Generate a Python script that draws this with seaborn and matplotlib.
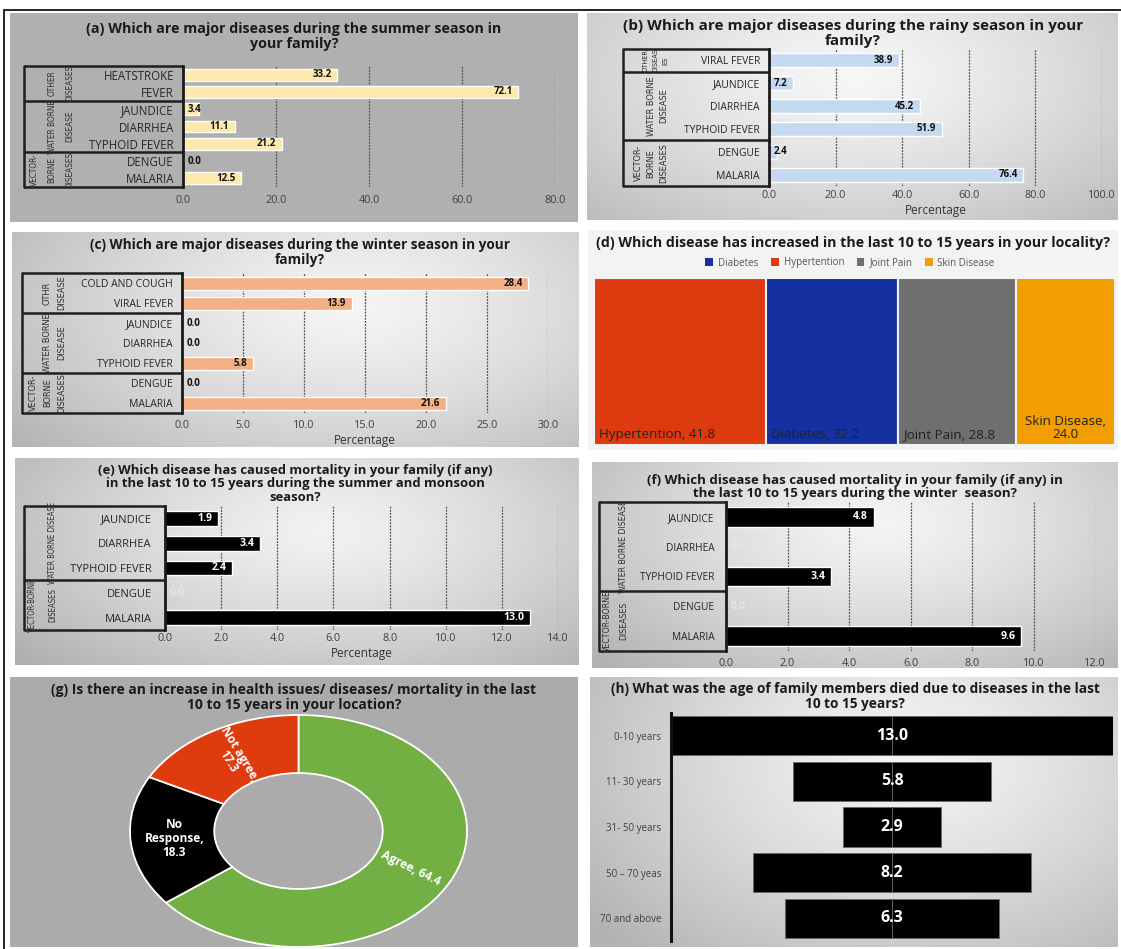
import numpy as np
import pandas as pd
import matplotlib
matplotlib.use("Agg")
import matplotlib.pyplot as plt
import matplotlib.colors as mcolors
import matplotlib.transforms as mtrans
from matplotlib import font_manager as fm
from matplotlib.lines import Line2D
from matplotlib.patches import Rectangle, Patch
import seaborn as sns

sns.set_theme(style="white")
plt.rcParams['font.family'] = ['Open Sans', 'DejaVu Sans']

# look for a condensed face for the rotated group captions
_narrow_path = None
for key in ["LiberationSansNarrow-Regular", "DejaVuSansCondensed.ttf", "OpenSans_Condensed-Regular",
            "OpenSansCondensed-Regular", "RobotoCondensed-Regular"]:
    for f in fm.fontManager.ttflist:
        if key in f.fname:
            _narrow_path = f.fname
            break
    if _narrow_path:
        break
NARROW_SCALE = 1.22 if _narrow_path else 1.0


def narrow_props(size):
    if _narrow_path:
        return fm.FontProperties(fname=_narrow_path, size=size)
    return fm.FontProperties(family=['Liberation Sans', 'DejaVu Sans'], size=size)


# ------------------------------------------------------------------ data
a_cats = ["HEATSTROKE", "FEVER", "JAUNDICE", "DIARRHEA", "TYPHOID FEVER", "DENGUE", "MALARIA"]
a_vals = [33.2, 72.1, 3.4, 11.1, 21.2, 0.0, 12.5]
a_groups = ["OTHER\nDISEASES", "WATER BORNE\nDISEASE", "VECTOR-\nBORNE\nDISEASES"]
a_group_sizes = [2, 3, 2]

b_cats = ["VIRAL FEVER", "JAUNDICE", "DIARRHEA", "TYPHOID FEVER", "DENGUE", "MALARIA"]
b_vals = [38.9, 7.2, 45.2, 51.9, 2.4, 76.4]
b_groups = ["OTHER\nDISEAS\nES", "WATER BORNE\nDISEASE", "VECTOR-\nBORNE\nDISEASES"]
b_group_sizes = [1, 3, 2]

c_cats = ["COLD AND COUGH", "VIRAL FEVER", "JAUNDICE", "DIARRHEA", "TYPHOID FEVER", "DENGUE", "MALARIA"]
c_vals = [28.4, 13.9, 0.0, 0.0, 5.8, 0.0, 21.6]
c_groups = ["OTHR\nDISEASE", "WATER BORNE\nDISEASE", "VECTOR-\nBORNE\nDISEASES"]
c_group_sizes = [2, 3, 2]

d_cats = ["Hypertention", "Diabetes", "Joint Pain", "Skin Disease"]
d_vals = [41.8, 32.2, 28.8, 24.0]
d_legend_order = ["Diabetes", "Hypertention", "Joint Pain", "Skin Disease"]

e_cats = ["JAUNDICE", "DIARRHEA", "TYPHOID FEVER", "DENGUE", "MALARIA"]
e_vals = [1.9, 3.4, 2.4, 0.0, 13.0]
e_groups = ["WATER BORNE DISEASE", "VECTOR-BORNE\nDISEASES"]
e_group_sizes = [3, 2]

f_cats = ["JAUNDICE", "DIARRHEA", "TYPHOID FEVER", "DENGUE", "MALARIA"]
f_vals = [4.8, 0.0, 3.4, 0.0, 9.6]
f_groups = ["WATER BORNE DISEASE", "VECTOR-BORNE\nDISEASES"]
f_group_sizes = [3, 2]

g_labels = ["Agree", "No Response", "Not agree"]
g_vals = [64.4, 18.3, 17.3]

h_cats = ["0-10 years", "11- 30 years", "31- 50 years", "50 \u2013 70 yeas", "70 and above"]
h_vals = [13.0, 5.8, 2.9, 8.2, 6.3]

# ------------------------------------------------------------------ figure
W, H = 1121, 949
fig = plt.figure(figsize=(W / 100, H / 100), dpi=100)
fig.patch.set_facecolor("white")


def R(x0, y0, x1, y1):
    return [x0 / W, 1 - y1 / H, (x1 - x0) / W, (y1 - y0) / H]


def background(x0, y0, x1, y1, flat=None, grad=None):
    ax = fig.add_axes(R(x0, y0, x1, y1), zorder=0)
    ax.set_axis_off()
    if flat is not None:
        ax.add_patch(Rectangle((0, 0), 1, 1, transform=ax.transAxes, color=flat))
    else:
        cin, cout, cx, cy = grad
        X, Y = np.meshgrid(np.linspace(0, 1, 300), np.linspace(0, 1, 150))
        d = np.clip(np.hypot((X - cx) / 0.75, (Y - cy) / 1.0), 0, 1) ** 1.3
        ci = np.array(mcolors.to_rgb(cin))
        co = np.array(mcolors.to_rgb(cout))
        img = ci * (1 - d[..., None]) + co * d[..., None]
        ax.imshow(img, aspect="auto", extent=[0, 1, 0, 1], origin="upper")
        ax.set_xlim(0, 1)
        ax.set_ylim(0, 1)
    return ax


def title(xc, ytop, text, size):
    fig.text(xc / W, 1 - ytop / H, text, ha="center", va="top", fontsize=size,
             fontweight="bold", color="#1a1a1a", linespacing=1.05, zorder=5)


def bar_panel(box, cats, vals, color, xmax, step, glabels, gsizes, box_left, grp_right,
              grp_size, grp_ls, bar_w, val_color, zero_color, xlabel, tick_pad,
              cat_size=7.5, tick_size=7.8, val_size=7, cat_pad=6.5, label_pad=2):
    x0, y0, x1, y1 = box
    ax = fig.add_axes(R(*box), zorder=2)
    ax.patch.set_alpha(0)
    df = pd.DataFrame({"Disease": cats, "Percentage": vals})
    sns.barplot(data=df, x="Percentage", y="Disease", order=cats, color=color,
                saturation=1, width=bar_w, ax=ax, orient="h", errorbar=None)
    n = len(cats)
    ax.set_xlim(0, xmax)
    ax.set_ylim(n - 0.5, -0.5)
    ticks = np.arange(0, xmax + 1e-9, step)
    ax.set_xticks(ticks)
    ax.set_xticklabels([f"{t:.1f}" for t in ticks], fontsize=tick_size, color="#404040")
    ax.tick_params(axis="x", length=0, pad=tick_pad)
    ax.tick_params(axis="y", length=0, pad=cat_pad, labelsize=cat_size, labelcolor="#262626")
    ax.set_ylabel("")
    ax.set_xlabel(xlabel, fontsize=8.5, color="#333333", labelpad=label_pad)
    ax.grid(axis="x", color="#505050", lw=0.9, ls=(0, (1.5, 1)))
    ax.grid(axis="y", visible=False)
    ax.set_axisbelow(True)
    for s in ["top", "right", "bottom"]:
        ax.spines[s].set_visible(False)
    ax.spines["left"].set_color("#1a1a1a")
    ax.spines["left"].set_linewidth(2)

    px_per_unit = (x1 - x0) / xmax
    for i, v in enumerate(vals):
        txt = f"{v:.1f}"
        if v * px_per_unit > 26:
            ax.annotate(txt, (v, i), xytext=(-4, 0), textcoords="offset points", ha="right",
                        va="center", fontsize=val_size, fontweight="bold", color=val_color)
        else:
            ax.annotate(txt, (0, i), xytext=(3.5, 0), textcoords="offset points", ha="left",
                        va="center", fontsize=val_size, fontweight="bold",
                        color=zero_color if v == 0 else val_color)

    blend = mtrans.blended_transform_factory(fig.transFigure, ax.transData)
    xl, xr = box_left / W, x0 / W
    bounds = np.concatenate([[0], np.cumsum(gsizes)]) - 0.5
    for b in bounds:
        ax.add_line(Line2D([xl, xr], [b, b], transform=blend, color="#1f1f1f", lw=1.8,
                           clip_on=False, solid_capstyle="butt"))
    ax.add_line(Line2D([xl, xl], [bounds[0], bounds[-1]], transform=blend, color="#1f1f1f",
                       lw=1.8, clip_on=False))
    for lab, cnt, lo, hi in zip(glabels, gsizes, bounds[:-1], bounds[1:]):
        fs = grp_size * NARROW_SCALE * (0.8 if cnt == 1 else 1.0)
        ls = grp_ls / NARROW_SCALE * (1.15 if cnt == 1 else 1.0)
        ax.text(grp_right / W, (lo + hi) / 2, lab, transform=blend, rotation=90, ha="right",
                va="center", multialignment="center", fontproperties=narrow_props(fs),
                linespacing=ls, color="#2e2e2e")
    return ax


# ------------------------------------------------------------------ frame
fig.add_artist(Line2D([4 / W, 4 / W], [0, 1 - 10 / H], transform=fig.transFigure, color="black", lw=1.2))
fig.add_artist(Line2D([4 / W, 1], [1 - 10 / H, 1 - 10 / H], transform=fig.transFigure, color="black", lw=1.2))

# ------------------------------------------------------------------ (a)
background(10, 13, 578, 222, flat="#b0b0b0")
title(294, 22, "(a) Which are major diseases during the summer season in\nyour family?", 10.3)
bar_panel((183, 66, 555, 187), a_cats, a_vals, "#fde9ad", 80, 20, a_groups, a_group_sizes,
          24, 74, 4.85, 2.7, 0.68, "#111111", "#111111", "", tick_pad=6, cat_size=8.3)

# ------------------------------------------------------------------ (b)
background(587, 13, 1118, 220, grad=("#f7f7f7", "#b9b9b9", 0.5, 0.3))
title(853, 19, "(b) Which are major diseases during the rainy season in your\nfamily?", 11.0)
bar_panel((769, 49, 1102, 186), b_cats, b_vals, "#c5daf1", 100, 20, b_groups, b_group_sizes,
          623, 668, 5.4, 1.8, 0.62, "#111111", "#111111", "Percentage", tick_pad=3)

# ------------------------------------------------------------------ (c)
background(12, 232, 578, 447, grad=("#f5f5f5", "#b5b5b5", 0.6, 0.35))
title(300, 238, "(c) Which are major diseases during the winter season in your\nfamily?", 9.8)
bar_panel((182, 273, 548, 413), c_cats, c_vals, "#f3b084", 30, 5, c_groups, c_group_sizes,
          22, 66, 5.4, 2.1, 0.65, "#111111", "#111111", "Percentage", tick_pad=5)

# ------------------------------------------------------------------ (d)
background(588, 230, 1118, 450, flat="#f3f3f3")
title(853, 236, "(d) Which disease has increased in the last 10 to 15 years in your locality?", 10.2)
d_colors = {"Hypertention": "#de3a10", "Diabetes": "#1530a0", "Joint Pain": "#6f6f6f",
            "Skin Disease": "#f29d00"}
ax_d = fig.add_axes(R(594, 278, 1115, 445), zorder=2)
lefts = np.concatenate([[0], np.cumsum(d_vals)[:-1]])
for cat, v, l in zip(d_cats, d_vals, lefts):
    ax_d.barh(0, v, left=l, height=1, color=d_colors[cat], edgecolor="#f3f3f3", lw=1.5)
ax_d.set_xlim(0, sum(d_vals))
ax_d.set_ylim(-0.5, 0.5)
ax_d.set_axis_off()
for k, (cat, v, l) in enumerate(zip(d_cats, d_vals, lefts)):
    if k < len(d_cats) - 1:
        ax_d.annotate(f"{cat}, {v:.1f}", (l, -0.5), xytext=(3.5, 3), textcoords="offset points",
                      ha="left", va="bottom", fontsize=9.6, color="#222222")
    else:
        ax_d.annotate(f"{cat},\n{v:.1f}", (l + v / 2, -0.5), xytext=(0, 3),
                      textcoords="offset points", ha="center", va="bottom", fontsize=9.6,
                      color="#222222", linespacing=1.0)
handles = [Patch(facecolor=d_colors[c], edgecolor="none", label=c) for c in d_legend_order]
fig.legend(handles=handles, loc="center", bbox_to_anchor=(850 / W, 1 - 263 / H), ncol=4,
           frameon=False, fontsize=7, handlelength=0.8, handleheight=0.8, handletextpad=0.5,
           columnspacing=1.3, labelcolor="#555555")

# ------------------------------------------------------------------ (e)
background(15, 458, 578, 665, grad=("#f2f2f2", "#ababab", 0.55, 0.35))
title(295, 464, "(e) Which disease has caused mortality in your family (if any)\n"
      "in the last 10 to 15 years during the summer and monsoon\nseason?", 9.4)
bar_panel((165, 506, 558, 630), e_cats, e_vals, "#000000", 14, 2, e_groups, e_group_sizes,
          24, 57, 4.6, 3.2, 0.6, "white", "#e6e6e6", "Percentage", tick_pad=2.5,
          cat_size=8, cat_pad=9.5, val_size=7.6)

# ------------------------------------------------------------------ (f)
background(592, 462, 1118, 668, grad=("#f4f4f4", "#b0b0b0", 0.55, 0.3))
title(855, 474, "(f) Which disease has caused mortality in your family (if any) in\n"
      "the last 10 to 15 years during the winter  season?", 9.5)
bar_panel((726, 502, 1095, 651), f_cats, f_vals, "#000000", 12, 2, f_groups, f_group_sizes,
          599, 628, 5.2, 2.4, 0.67, "white", "#e6e6e6", "", tick_pad=5,
          cat_size=7.3, cat_pad=8.5, val_size=7.6)

# ------------------------------------------------------------------ (g)
background(10, 677, 578, 947, flat="#ababab")
title(294, 683, "(g) Is there an increase in health issues/ diseases/ mortality in the last\n"
      "10 to 15 years in your location?", 10.0)
g_colors = ["#72b043", "#000000", "#df3b0e"]
ax_g = fig.add_axes(R(130, 715, 467, 947), zorder=2)
wedges, _ = ax_g.pie(g_vals, colors=g_colors, startangle=90, counterclock=False,
                     wedgeprops=dict(width=0.5, edgecolor="white", linewidth=1.3))
for w in wedges:
    w.set_clip_on(False)
ax_g.set_aspect("auto")
ax_g.set_xlim(-1, 1)
ax_g.set_ylim(-1, 1)
ax_g.set_axis_off()
tot = sum(g_vals)
cum = 0.0
for k, (lab, v) in enumerate(zip(g_labels, g_vals)):
    mid = 90 - (cum + v / 2) / tot * 360
    cum += v
    r = 0.74
    xx, yy = r * np.cos(np.radians(mid)), r * np.sin(np.radians(mid))
    if lab == "No Response":
        txt, rot = f"No\nResponse,\n{v:.1f}", 0
    elif lab == "Agree":
        txt, rot = f"{lab}, {v:.1f}", mid
    else:
        txt, rot = f"{lab},\n{v:.1f}", mid - 180
    ax_g.text(xx, yy, txt, ha="center", va="center", rotation=rot, rotation_mode="anchor",
              color="white", fontsize=8.6, fontweight="bold", linespacing=1.1)

# ------------------------------------------------------------------ (h)
background(590, 677, 1118, 947, grad=("#f4f4f4", "#b3b3b3", 0.6, 0.3))
title(855, 682, "(h) What was the age of family members died due to diseases in the last\n"
      "10 to 15 years?", 9.8)
ax_h = fig.add_axes(R(671, 713, 1113, 941), zorder=2)
ax_h.patch.set_alpha(0)
half = np.array(h_vals) / 2
sns.barplot(x=half, y=h_cats, order=h_cats, color="black", saturation=1, width=0.86,
            ax=ax_h, orient="h", errorbar=None, edgecolor="#6a6a6a", linewidth=0.6)
sns.barplot(x=-half, y=h_cats, order=h_cats, color="black", saturation=1, width=0.86,
            ax=ax_h, orient="h", errorbar=None, edgecolor="#6a6a6a", linewidth=0.6)
ax_h.set_xlim(-max(h_vals) / 2, max(h_vals) / 2)
ax_h.set_ylim(len(h_cats) - 0.5, -0.5)
ax_h.set_xticks([])
ax_h.set_xlabel("")
ax_h.set_ylabel("")
ax_h.tick_params(axis="y", length=0, pad=7, labelsize=7, labelcolor="#404040")
for s in ["top", "right", "bottom"]:
    ax_h.spines[s].set_visible(False)
ax_h.spines["left"].set_color("#111111")
ax_h.spines["left"].set_linewidth(2.2)
for i, v in enumerate(h_vals):
    ax_h.text(0, i, f"{v:.1f}", ha="center", va="center", color="white", fontsize=11.5,
              fontweight="bold")

fig.savefig("out.png", dpi=100, facecolor="white")
